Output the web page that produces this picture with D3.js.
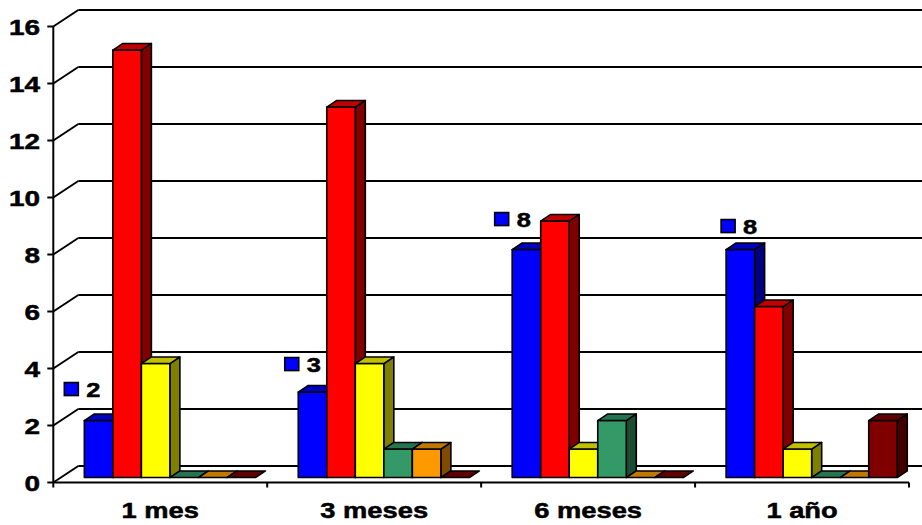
<!DOCTYPE html>
<html>
<head>
<meta charset="utf-8">
<script src="https://cdn.jsdelivr.net/npm/d3@7/dist/d3.min.js"></script>
<style>
  html, body { margin: 0; padding: 0; background: #fff; }
  svg { display: block; }
  text { font-family: "Liberation Sans", Arial, sans-serif; font-weight: bold; fill: #000;
         stroke: #000; stroke-width: 0.5px; }
</style>
</head>
<body>
<svg id="chart" width="922" height="525"></svg>
<script>
// ---- data ----
const categories = ["1 mes", "3 meses", "6 meses", "1 año"];
const seriesNames = ["s1", "s2", "s3", "s4", "s5", "s6"];
const s1 = [2, 3, 8, 8];
const s2 = [15, 13, 9, 6];
const s3 = [4, 4, 1, 1];
const s4 = [0, 1, 2, 0];
const s5 = [0, 1, 0, 0];
const s6 = [0, 0, 0, 2];
const seriesValues = [s1, s2, s3, s4, s5, s6];
const yTicks = [0, 2, 4, 6, 8, 10, 12, 14, 16];
// only the first series carries value labels
const labelledSeries = 0;

// ---- styling ----
const fronts = ["#0000FF", "#FF0000", "#FFFF00", "#339966", "#FF9900", "#800000"];
const tops   = ["#0000C0", "#C00000", "#C0C000", "#267350", "#C07800", "#600000"];
const sides  = ["#000080", "#800000", "#808000", "#1A4D33", "#804C00", "#400000"];

// ---- layout ----
const W = 922, H = 525;
const left = 53.3, right = 909;
const DX = 25, DY = 16.5;          // full depth offset of the back wall
const z0 = 0.3, z1 = 0.7;          // bar depth span (fraction of full depth)
const textStretch = 1.27;
// small per-label nudges for the value labels
const labelNudge = [[-6, -2], [0.5, 1.5], [-3.5, -1], [9, 6]];

const svg = d3.select("#chart");

const y = d3.scaleLinear().domain([0, 16]).range([482.5, 26.5]);
const x0 = d3.scaleBand().domain(categories).range([left, right]).padding(0);
const x1 = d3.scaleBand().domain(seriesNames).range([0, x0.bandwidth()])
  .paddingInner(0).paddingOuter(0.75).align(0.55);

const line = d3.line();

// ---- walls: side-wall diagonals and back-wall gridlines ----
const grid = svg.append("g").attr("stroke", "#000").attr("stroke-width", 2).attr("fill", "none");
yTicks.forEach(v => {
  grid.append("path").attr("d", line([[left, y(v)], [left + DX, y(v) - DY]]));
  grid.append("path").attr("d", line([[left + DX, y(v) - DY], [W + 20, y(v) - DY]]));
});

// ---- 3D bars ----
const bars = svg.append("g")
  .attr("stroke", "#000").attr("stroke-width", 1.6).attr("stroke-linejoin", "round");
const ddx = (z1 - z0) * DX, ddy = (z1 - z0) * DY;

categories.forEach((cat, i) => {
  seriesNames.forEach((s, j) => {
    const v = seriesValues[j][i];
    const xl = x0(cat) + x1(s) + z0 * DX;
    const xr = xl + x1.bandwidth();
    const yb = y(0) - z0 * DY;
    const yt = y(v) - z0 * DY;
    const g = bars.append("g");
    if (v > 0) {
      g.append("path").attr("fill", sides[j])
        .attr("d", line([[xr, yb], [xr + ddx, yb - ddy], [xr + ddx, yt - ddy], [xr, yt]]) + "Z");
      g.append("path").attr("fill", fronts[j])
        .attr("d", line([[xl, yb], [xr, yb], [xr, yt], [xl, yt]]) + "Z");
    }
    g.append("path").attr("fill", tops[j])
      .attr("d", line([[xl, yt], [xr, yt], [xr + ddx, yt - ddy], [xl + ddx, yt - ddy]]) + "Z");
  });
});

// ---- axes ----
const axes = svg.append("g").attr("stroke", "#000").attr("stroke-width", 2).attr("fill", "none");
axes.append("path").attr("d", line([[left, y(16)], [left, y(0) + 5]]));
axes.append("path").attr("d", line([[left, y(0)], [right, y(0)]]));
yTicks.forEach(v => axes.append("path").attr("d", line([[left - 6, y(v)], [left, y(v)]])));
x0.domain().forEach(c => {
  const xb = x0(c) + x0.bandwidth();
  axes.append("path").attr("d", line([[xb, y(0)], [xb, y(0) + 5]]));
});

// y tick labels
svg.append("g").selectAll("text").data(yTicks).join("text")
  .attr("transform", d => `translate(40,${y(d) + 8}) scale(${textStretch},1)`)
  .attr("text-anchor", "end")
  .attr("font-size", 22)
  .text(d => d);

// category labels
svg.append("g").selectAll("text").data(categories).join("text")
  .attr("transform", d => `translate(${x0(d) + x0.bandwidth() / 2},518) scale(${textStretch},1)`)
  .attr("text-anchor", "middle")
  .attr("font-size", 21.5)
  .text(d => d);

// ---- value labels with legend key ----
const lab = svg.append("g");
categories.forEach((cat, i) => {
  const v = seriesValues[labelledSeries][i];
  const bx = x0(cat) + x1(seriesNames[labelledSeries]) + z0 * DX;
  const by = y(v) - z0 * DY;
  const tx = bx + 8 + labelNudge[i][0];
  const ty = by - 22 + labelNudge[i][1];
  lab.append("rect")
    .attr("x", tx - 22).attr("y", ty - 14).attr("width", 14).attr("height", 13)
    .attr("fill", fronts[labelledSeries]).attr("stroke", "#000").attr("stroke-width", 1.6);
  lab.append("text")
    .attr("transform", `translate(${tx},${ty}) scale(${textStretch},1)`)
    .attr("font-size", 20)
    .text(v);
});
</script>
</body>
</html>
